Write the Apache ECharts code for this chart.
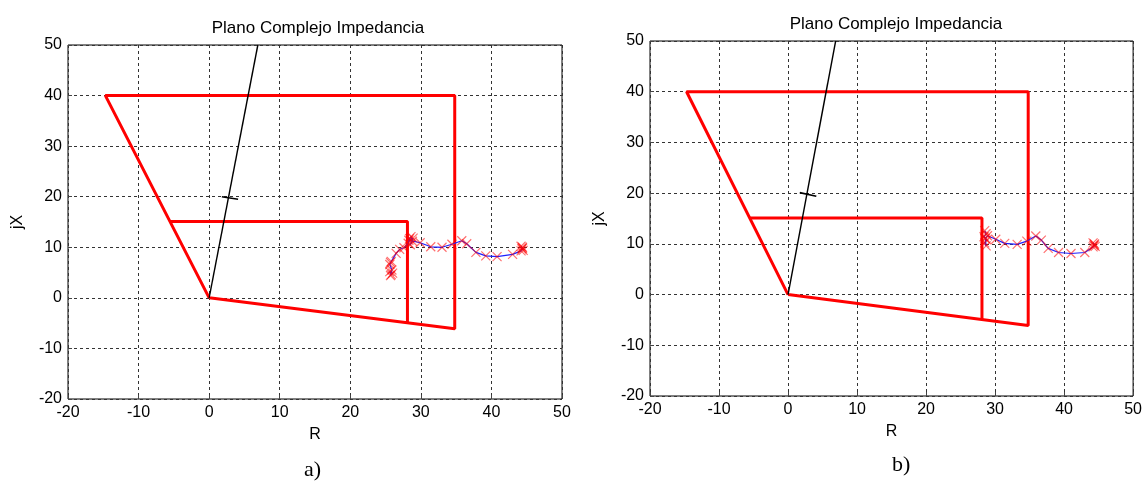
<!DOCTYPE html>
<html>
<head>
<meta charset="utf-8">
<script src="https://cdn.jsdelivr.net/npm/echarts@6/dist/echarts.min.js"></script>
<style>
  html, body { margin: 0; padding: 0; background: #fff; }
  #chart { width: 1145px; height: 485px; }
</style>
</head>
<body>
<div id="chart"></div>
<script>
// ---- data ----
const titleText = 'Plano Complejo Impedancia';
const panelLabels = ['a)', 'b)'];
const xTicks = [-20, -10, 0, 10, 20, 30, 40, 50];
const yTicks = [-20, -10, 0, 10, 20, 30, 40, 50];

// zone characteristic (R, jX)
const outerZone = [[0, 0], [-14.7, 40], [34.8, 40], [34.8, -6.1], [0, 0]];
const innerZone = [[-5.5, 15.1], [28.1, 15.1], [28.1, -4.9]];
const angleLine = [[0, 0], [6.9, 50]];
const angleMarkA = [[1.8, 20.0], [4.1, 19.5]];
const angleMarkB = [[1.7, 20.1], [4.1, 19.4]];

// impedance trajectory, case a)
const trajA = [
  [25.8, 4.6], [25.6, 5.2], [26.0, 4.9], [25.7, 4.4], [25.9, 5.5],
  [25.6, 6.6], [25.8, 7.2], [25.7, 7.0],
  [26.5, 8.8], [27.0, 9.6], [27.6, 9.9],
  [28.2, 10.8], [28.4, 11.7], [28.6, 12.1], [28.8, 11.2], [28.5, 10.5], [28.9, 11.8], [28.3, 11.4],
  [29.9, 10.9], [31.4, 10.1], [33.0, 10.0], [34.4, 10.6], [35.8, 11.3], [36.5, 10.7],
  [37.8, 9.0], [39.2, 8.3], [40.8, 8.15], [43.0, 8.6],
  [44.2, 9.3], [44.4, 10.0], [44.3, 9.7], [44.5, 9.4], [44.2, 10.2], [44.4, 9.8]
];
// impedance trajectory, case b)
const trajB = [
  [28.5, 12.6], [28.7, 12.0], [28.4, 11.4], [28.8, 10.8], [28.5, 10.2], [28.7, 9.6], [28.6, 11.0], [28.9, 11.6],
  [30.1, 10.9], [31.4, 10.1], [33.2, 9.9], [34.6, 10.55], [35.9, 11.55], [36.7, 10.75],
  [37.7, 9.1], [39.2, 8.3], [41.0, 8.1], [43.0, 8.3],
  [44.2, 9.4], [44.4, 10.0], [44.3, 9.7], [44.5, 9.5], [44.2, 10.2], [44.4, 9.8]
];

// ---- chart ----
const chart = echarts.init(document.getElementById('chart'), null, { renderer: 'canvas' });
const FONT = 'Liberation Sans, Arial, sans-serif';

function makeX(gi) {
  return {
    type: 'value', gridIndex: gi, min: xTicks[0], max: xTicks[xTicks.length - 1], interval: 10,
    name: 'R', nameLocation: 'middle', nameGap: 28,
    nameTextStyle: { color: '#000', fontSize: 16, fontFamily: FONT },
    axisLine: { show: false, onZero: false },
    axisTick: { show: true, inside: true, length: 4, lineStyle: { color: '#444' } },
    axisLabel: { color: '#000', fontSize: 16, fontFamily: FONT, margin: 6, showMinLabel: true, showMaxLabel: true },
    splitLine: { show: true, lineStyle: { color: '#333', width: 1, type: [3, 3] } }
  };
}
function makeY(gi) {
  return {
    type: 'value', gridIndex: gi, min: yTicks[0], max: yTicks[yTicks.length - 1], interval: 10,
    name: 'jX', nameLocation: 'middle', nameGap: 42,
    nameTextStyle: { color: '#000', fontSize: 16, fontFamily: FONT },
    axisLine: { show: false, onZero: false },
    axisTick: { show: true, inside: true, length: 4, lineStyle: { color: '#444' } },
    axisLabel: { color: '#000', fontSize: 16, fontFamily: FONT, margin: 6, showMinLabel: true, showMaxLabel: true },
    splitLine: { show: true, lineStyle: { color: '#333', width: 1, type: [3, 3] } }
  };
}
function zoneSeries(gi, markData) {
  const base = { type: 'line', xAxisIndex: gi, yAxisIndex: gi, showSymbol: false, symbol: 'none', animation: false, z: 3 };
  return [
    Object.assign({}, base, { name: 'Zona 2', data: outerZone, lineStyle: { color: '#ff0000', width: 3 } }),
    Object.assign({}, base, { name: 'Zona 1', data: innerZone, lineStyle: { color: '#ff0000', width: 3 } }),
    Object.assign({}, base, { name: 'Línea', data: angleLine, lineStyle: { color: '#000', width: 1.4 }, z: 4 }),
    Object.assign({}, base, { name: 'Marca', data: markData, lineStyle: { color: '#000', width: 1.6 }, z: 4 })
  ];
}
function trajSeries(gi, data) {
  return [
    { type: 'line', name: 'Trayectoria', xAxisIndex: gi, yAxisIndex: gi, data: data, showSymbol: false, symbol: 'none',
      lineStyle: { color: '#2020ff', width: 1.2 }, animation: false, z: 5 },
    { type: 'scatter', name: 'Muestras', xAxisIndex: gi, yAxisIndex: gi, data: data,
      symbol: 'path://M0,0L10,10M10,0L0,10', symbolSize: 9,
      itemStyle: { color: 'none', borderColor: 'rgba(255,0,0,0.7)', borderWidth: 1.2 }, animation: false, z: 6 }
  ];
}

const option = {
  backgroundColor: '#fff',
  animation: false,
  title: [
    { text: titleText, left: 313, top: 15, textAlign: 'center',
      textStyle: { fontSize: 17, fontWeight: 'normal', color: '#000', fontFamily: FONT } },
    { text: titleText, left: 891, top: 11, textAlign: 'center',
      textStyle: { fontSize: 17, fontWeight: 'normal', color: '#000', fontFamily: FONT } }
  ],
  grid: [
    { left: 68, right: 583, top: 45, bottom: 86, show: true, borderColor: '#000', borderWidth: 1, backgroundColor: 'transparent' },
    { left: 650, right: 10, top: 41, bottom: 89, show: true, borderColor: '#000', borderWidth: 1, backgroundColor: 'transparent' }
  ],
  xAxis: [makeX(0), makeX(1)],
  yAxis: [makeY(0), makeY(1)],
  graphic: [
    { type: 'text', left: 304, top: 459, style: { text: panelLabels[0], font: '22px "Liberation Serif", "Times New Roman", serif', fill: '#000' } },
    { type: 'text', left: 892, top: 454, style: { text: panelLabels[1], font: '22px "Liberation Serif", "Times New Roman", serif', fill: '#000' } }
  ],
  series: [].concat(
    zoneSeries(0, angleMarkA), trajSeries(0, trajA),
    zoneSeries(1, angleMarkB), trajSeries(1, trajB)
  )
};
chart.setOption(option);
</script>
</body>
</html>
